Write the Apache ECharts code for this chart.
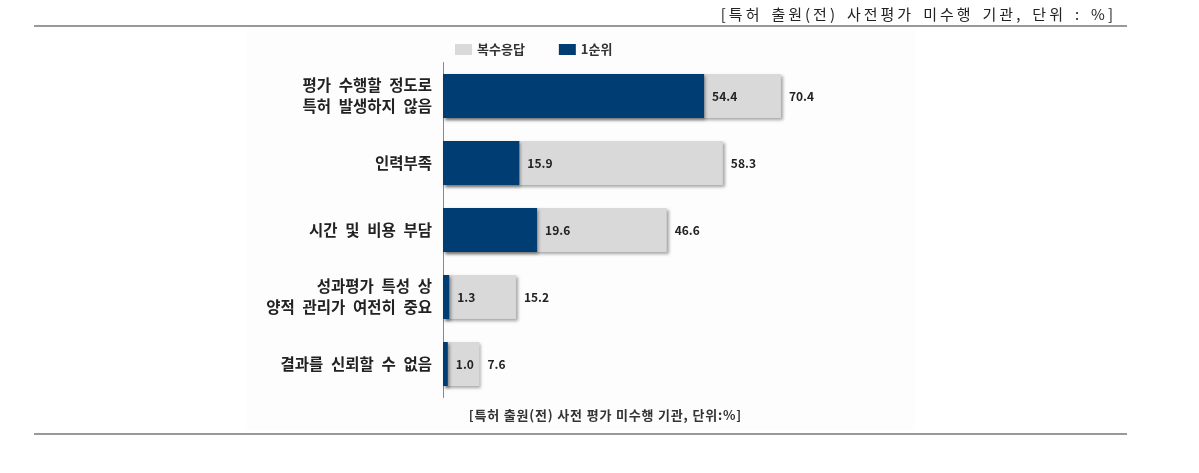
<!DOCTYPE html>
<html>
<head>
<meta charset="utf-8">
<script src="https://cdn.jsdelivr.net/npm/echarts@6/dist/echarts.min.js"></script>
<style>
html,body{margin:0;padding:0;background:#fff;}
#c{width:1199px;height:473px;}
</style>
</head>
<body>
<div id="c"></div>
<script>
const categories = ['평가 수행할 정도로\n특허 발생하지 않음', '인력부족', '시간 및 비용 부담', '성과평가 특성 상\n양적 관리가 여전히 중요', '결과를 신뢰할 수 없음'];
const multiResponse = [70.4, 58.3, 46.6, 15.2, 7.6];
const firstRank = [54.4, 15.9, 19.6, 1.3, 1.0];
const seriesNames = ['복수응답', '1순위'];
const titleText = '[특허 출원(전) 사전평가 미수행 기관, 단위 : %]';
const noteText = '[특허 출원(전) 사전 평가 미수행 기관, 단위:%]';

const spaced = (s, sp) => Array.from(s).join(sp);
const FONT = '"Noto Sans CJK KR", "Noto Sans", sans-serif';
const chart = echarts.init(document.getElementById('c'));
const shadow = {shadowColor: 'rgba(0,0,0,0.35)', shadowBlur: 3, shadowOffsetX: 2, shadowOffsetY: 2};
chart.setOption({
  animation: false,
  graphic: [
    {type: 'rect', z: -10, shape: {x: 247, y: 27, width: 668, height: 403}, style: {fill: '#fdfdfd'}},
    {type: 'line', shape: {x1: 34, y1: 26, x2: 1127, y2: 26}, style: {stroke: '#999', lineWidth: 2}},
    {type: 'line', shape: {x1: 34, y1: 434, x2: 1127, y2: 434}, style: {stroke: '#999', lineWidth: 2}},
    {type: 'text', x: 1113, y: 14, style: {text: spaced(titleText, '\u2009').replace(/ /g, '\u2009\u2009'), align: 'right', verticalAlign: 'middle', font: '15px ' + FONT, fill: '#222'}},
    {type: 'text', x: 605, y: 415, style: {text: spaced(noteText, '\u200a'), align: 'center', verticalAlign: 'middle', font: 'bold 13px ' + FONT, fill: '#333'}}
  ],
  legend: {
    data: seriesNames,
    left: 450, top: 38,
    itemWidth: 17, itemHeight: 11, itemGap: 34,
    icon: 'rect',
    textStyle: {fontFamily: FONT, fontWeight: 'bold', fontSize: 13, color: '#333'}
  },
  grid: {left: 443, top: 62.5, width: 480, height: 335, containLabel: false},
  xAxis: {type: 'value', min: 0, max: 100, show: false},
  yAxis: {
    type: 'category', data: categories, inverse: true,
    axisLine: {show: true, lineStyle: {color: '#888', width: 1}},
    axisTick: {show: false},
    axisLabel: {margin: 11, fontFamily: FONT, fontWeight: 'bold', fontSize: 15.5, color: '#222', lineHeight: 21, align: 'right',
      formatter: v => v.replace(/ /g, '\u2002')}
  },
  series: [
    {
      name: seriesNames[0], type: 'bar', data: multiResponse, barWidth: 44, barGap: '-100%',
      itemStyle: Object.assign({color: '#d9d9d9'}, shadow),
      label: {show: true, position: 'right', distance: 8, fontFamily: FONT, fontWeight: 'bold', fontSize: 12, color: '#222', formatter: p => p.value.toFixed(1)}
    },
    {
      name: seriesNames[1], type: 'bar', data: firstRank, barWidth: 44, barGap: '-100%',
      itemStyle: Object.assign({color: '#003d73'}, shadow),
      label: {show: true, position: 'right', distance: 8, fontFamily: FONT, fontWeight: 'bold', fontSize: 12, color: '#222', formatter: p => p.value.toFixed(1)}
    }
  ]
});
</script>
</body>
</html>
